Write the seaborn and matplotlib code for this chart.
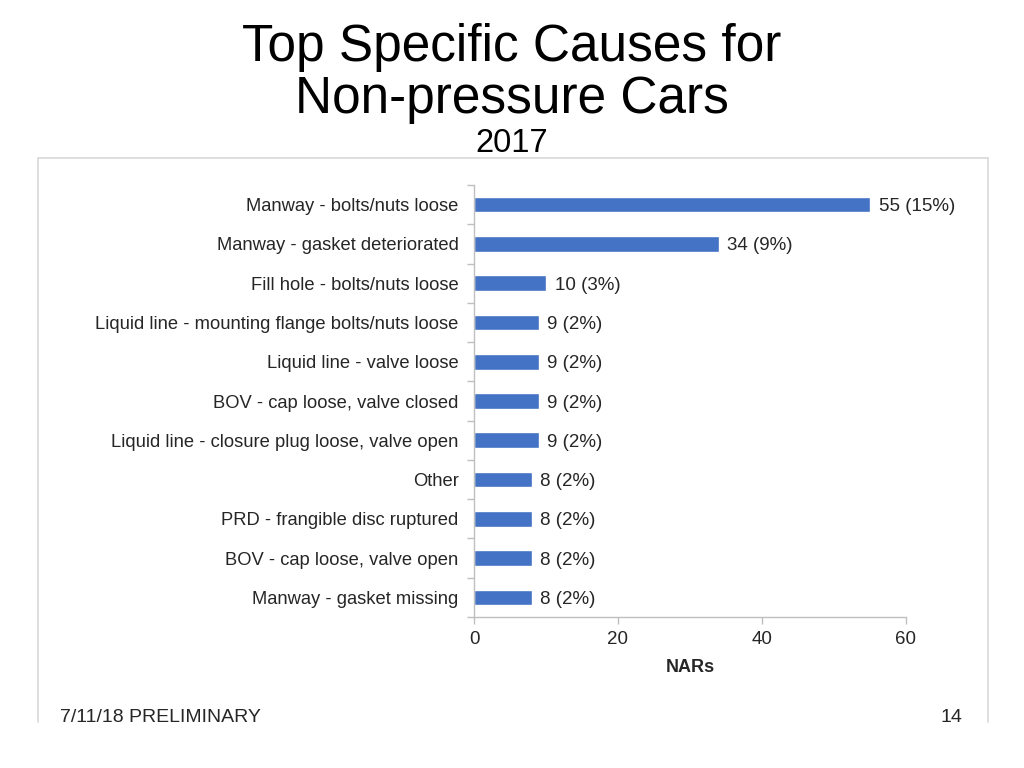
import pandas as pd
import matplotlib.pyplot as plt
import seaborn as sns
from matplotlib.lines import Line2D

causes = ['Manway - bolts/nuts loose', 'Manway - gasket deteriorated', 'Fill hole - bolts/nuts loose',
          'Liquid line - mounting flange bolts/nuts loose', 'Liquid line - valve loose',
          'BOV - cap loose, valve closed', 'Liquid line - closure plug loose, valve open',
          'Other', 'PRD - frangible disc ruptured', 'BOV - cap loose, valve open', 'Manway - gasket missing']
nars = [55, 34, 10, 9, 9, 9, 9, 8, 8, 8, 8]
pcts = ['15%', '9%', '3%', '2%', '2%', '2%', '2%', '2%', '2%', '2%', '2%']

data = pd.DataFrame({'cause': causes, 'nars': nars, 'pct': pcts})

sns.set_style('white')
plt.rcParams['font.family'] = ['Liberation Sans', 'DejaVu Sans']

fig = plt.figure(figsize=(10.24, 7.68), dpi=100)

# slide frame around the chart
frame_col = '#d9d9d9'
fig.add_artist(Line2D([38/1024, 38/1024], [1-722/768, 1-158/768], color=frame_col, lw=1.2))
fig.add_artist(Line2D([38/1024, 988/1024], [1-158/768, 1-158/768], color=frame_col, lw=1.2))
fig.add_artist(Line2D([988/1024, 988/1024], [1-722/768, 1-158/768], color=frame_col, lw=1.2))

ax = fig.add_axes([474/1024, 1-617/768, 432/1024, 432/768])
sns.barplot(data=data, x='nars', y='cause', color='#4472C4', width=0.4, saturation=1, ax=ax)

for i, row in data.iterrows():
    ax.text(row['nars'] + 1.2, i, f"{row['nars']} ({row['pct']})", va='center_baseline', ha='left',
            fontsize=13.5, color='#262626')

ax.set_xlim(0, 60)
ax.set_ylim(len(causes) - 0.5, -0.5)
ax.set_xticks([0, 20, 40, 60])
ax.set_xlabel('NARs', fontsize=13, fontweight='bold', color='#262626', labelpad=8)
ax.set_ylabel('')
ax.tick_params(axis='x', labelsize=13.5, colors='#262626', length=5, width=1, color='#bfbfbf',
               direction='out', bottom=True, pad=5)
ax.set_yticks(range(len(causes)))
ax.tick_params(axis='y', labelsize=13.2, colors='#262626', length=0, pad=11)
ax.set_yticks([i - 0.5 for i in range(len(causes) + 1)], minor=True)
ax.tick_params(axis='y', which='minor', left=True, length=5, width=1, color='#bfbfbf', direction='out')
sns.despine(ax=ax, top=True, right=True)
for s in ['left', 'bottom']:
    ax.spines[s].set_color('#bfbfbf')
    ax.spines[s].set_linewidth(1)

fig.text(0.5, 1-48/768, 'Top Specific Causes for', ha='center', va='center', fontsize=37, color='black')
fig.text(0.5, 1-100/768, 'Non-pressure Cars', ha='center', va='center', fontsize=37, color='black')
fig.text(0.5, 1-143/768, '2017', ha='center', va='center', fontsize=23.5, color='black')

foot_font = ['Liberation Sans Narrow', 'Liberation Sans', 'DejaVu Sans']
fig.text(60/1024, 1-717/768, '7/11/18 PRELIMINARY', ha='left', va='center', fontsize=14, family=foot_font)
fig.text(962/1024, 1-717/768, '14', ha='right', va='center', fontsize=14, family=foot_font)

fig.savefig('out.png', dpi=100)
